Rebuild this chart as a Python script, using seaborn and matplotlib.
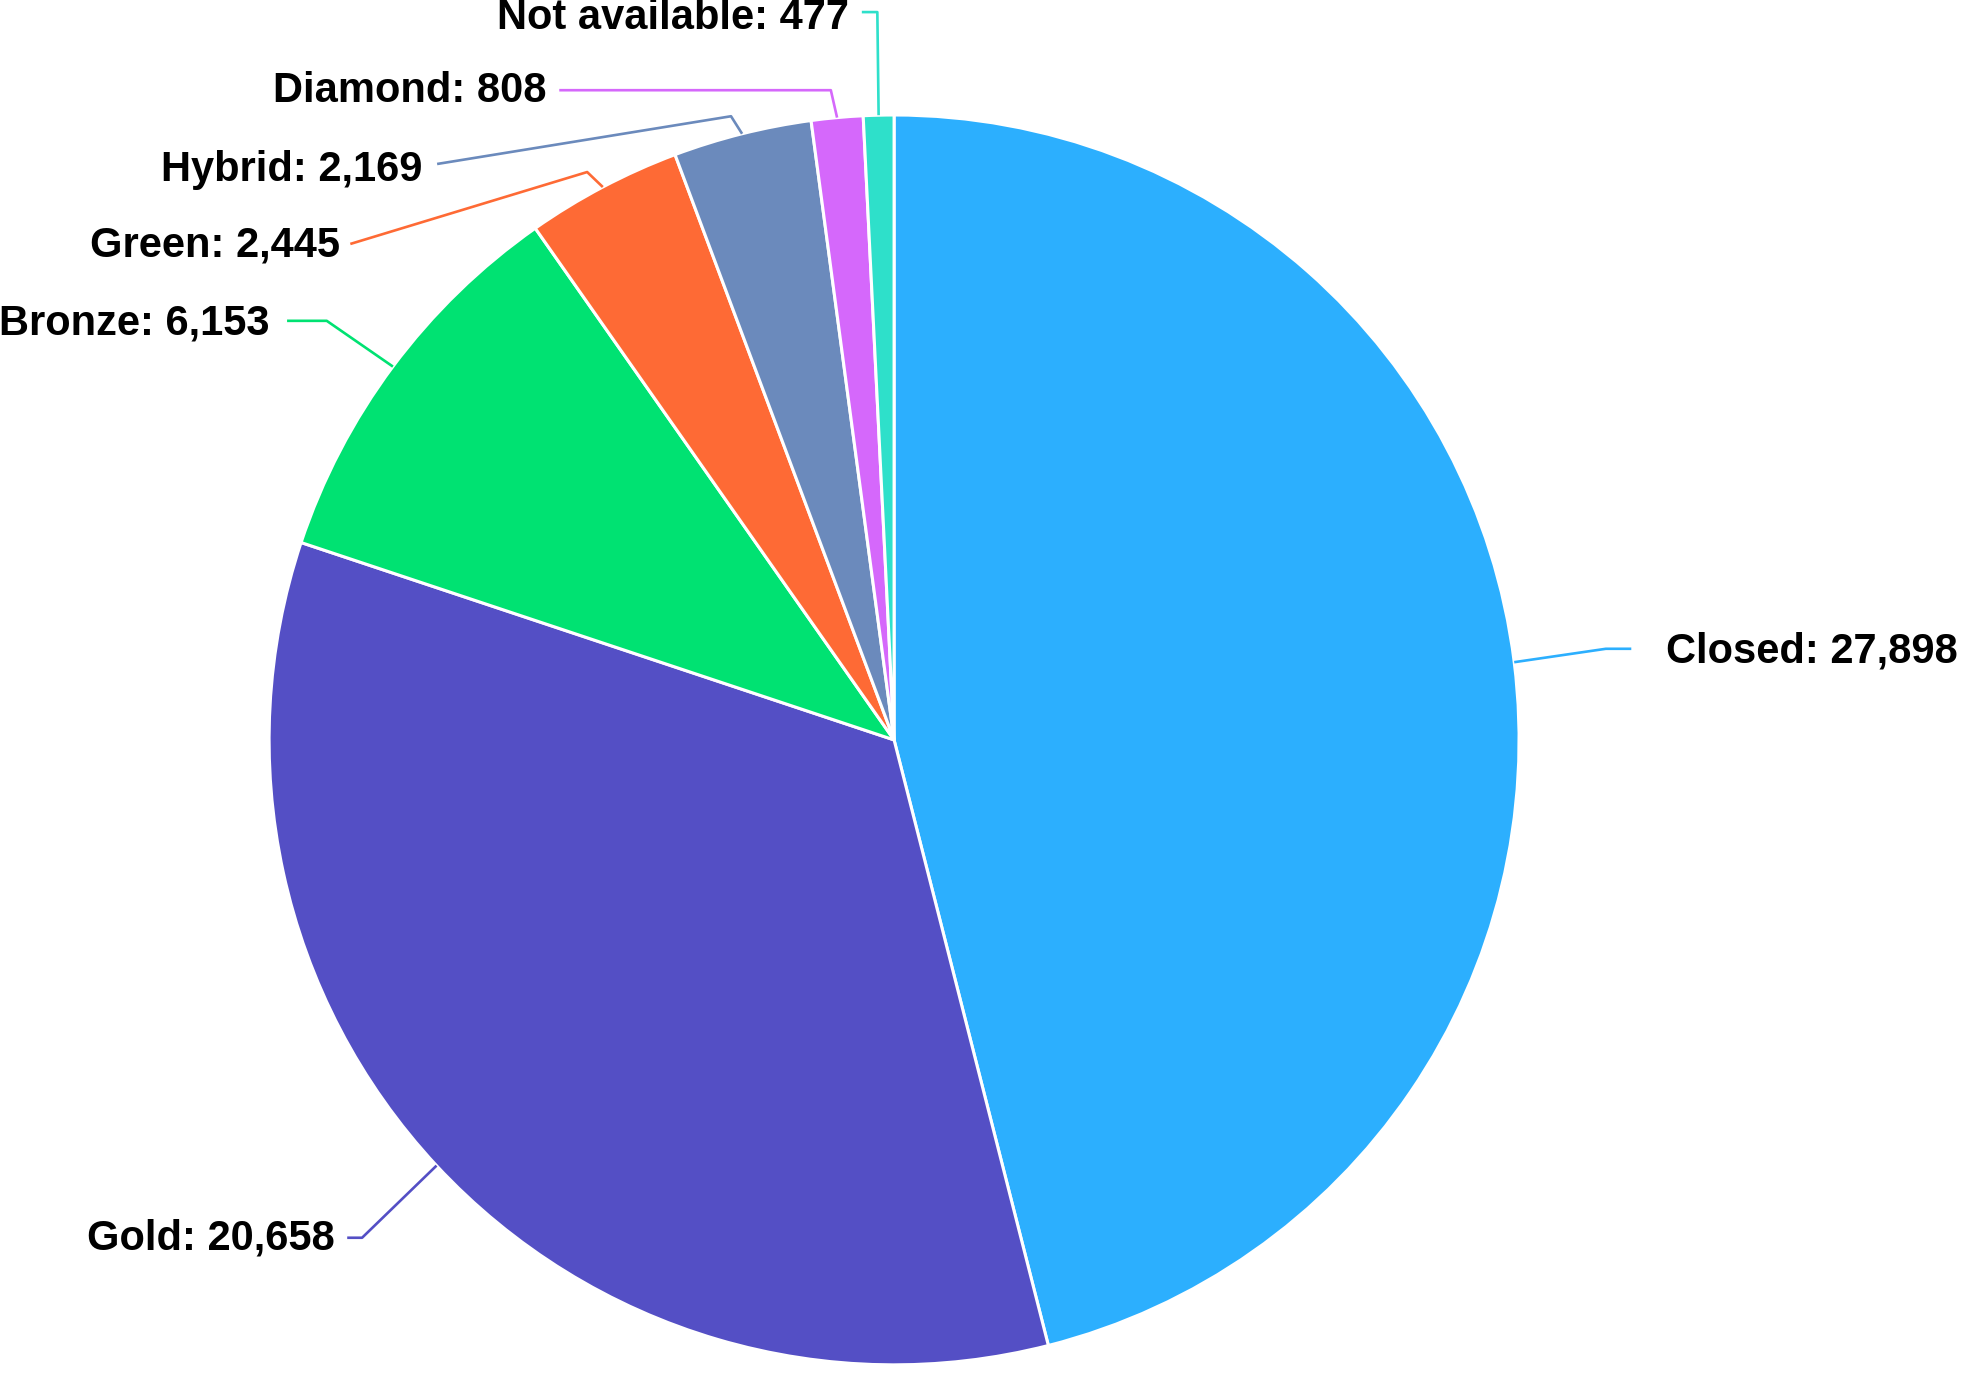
import matplotlib
matplotlib.use('Agg')
import matplotlib.pyplot as plt
import seaborn as sns
import numpy as np

sns.set_theme(style='white')
plt.rcParams['font.family'] = ['Liberation Sans', 'DejaVu Sans']

# data
categories = ['Closed', 'Gold', 'Bronze', 'Green', 'Hybrid', 'Diamond', 'Not available']
counts = [27898, 20658, 6153, 2445, 2169, 808, 477]
colors = ['#2CAFFE', '#544FC5', '#00E272', '#FE6A35', '#6B8ABC', '#D568FB', '#2EE0CA']

# label layout in axis units: crook point, line end, text anchor
crook_pts = [(1.148, 0.147), (-0.858, -0.803), (-0.915, 0.676), (-0.495, 0.916),
             (-0.263, 1.006), (-0.102, 1.048), (-0.027, 1.174)]
end_pts = [(1.189, 0.147), (-0.882, -0.803), (-0.979, 0.676), (-0.877, 0.800),
           (-0.737, 0.929), (-0.540, 1.048), (-0.052, 1.174)]
text_pts = [(1.245, 0.142), (-0.902, -0.805), (-1.008, 0.671), (-0.894, 0.798),
            (-0.761, 0.919), (-0.561, 1.047), (-0.073, 1.165)]

R = 1.008

fig = plt.figure(figsize=(19.63, 13.76), dpi=100)
ax = fig.add_axes([0, 0, 1, 1])

wedges, _ = ax.pie(counts, colors=colors, startangle=90, counterclock=False,
                   radius=R, wedgeprops=dict(edgecolor='white', linewidth=2.2))

for w, name, n, c, cp, ep, tp in zip(wedges, categories, counts, colors,
                                     crook_pts, end_pts, text_pts):
    mid = np.deg2rad((w.theta1 + w.theta2) / 2)
    ax_, ay_ = R * np.cos(mid), R * np.sin(mid)
    ax.plot([ax_, cp[0], ep[0]], [ay_, cp[1], ep[1]], color=c, lw=1.9,
            solid_capstyle='butt', zorder=1)
    ha = 'left' if tp[0] > 0 else 'right'
    ax.text(tp[0], tp[1], f'{name}: {n:,}', ha=ha, va='center',
            fontsize=30, fontweight='bold', color='black')

ax.set_xlim(-1.442, 1.724)
ax.set_ylim(-1.026, 1.1935)
ax.set_aspect('auto')
ax.axis('off')

fig.savefig('out.png', dpi=100, facecolor='white')
